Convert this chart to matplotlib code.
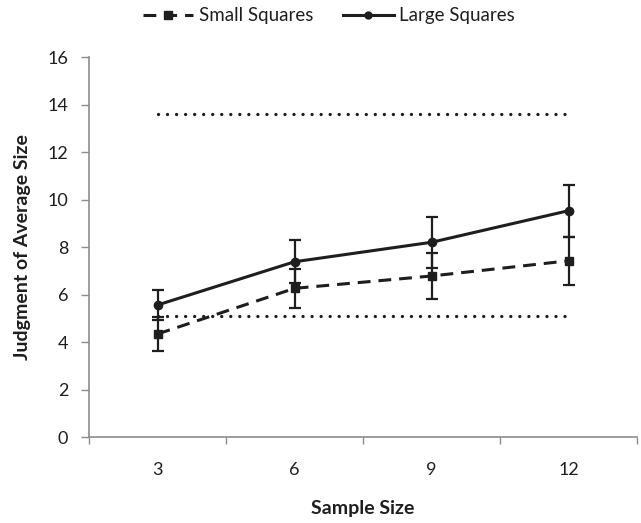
import matplotlib.pyplot as plt
from matplotlib.lines import Line2D
import numpy as np

plt.rcParams['font.family'] = ['Lato', 'DejaVu Sans']

categories = ['3', '6', '9', '12']
small_mean = [4.34, 6.26, 6.78, 7.42]
small_err = [0.72, 0.83, 0.98, 1.02]
large_mean = [5.56, 7.38, 8.20, 9.53]
large_err = [0.63, 0.91, 1.08, 1.10]
upper_ref = 13.6
lower_ref = 5.1

x = np.arange(len(categories))
ink = '#1e1e1e'
axis_gray = '#8c8c8c'
dash_small = (0, (4.2, 2.6))

fig = plt.figure(figsize=(6.41, 5.23), dpi=100)
ax = fig.add_axes([0.139, 0.1644, 0.855, 0.7266])

# reference lines (dotted)
ax.plot([x[0], x[-1]], [upper_ref, upper_ref], color=ink, lw=2.4,
        linestyle=(0, (0.01, 2.7)), dash_capstyle='round')
ax.plot([x[0], x[-1]], [lower_ref, lower_ref], color=ink, lw=2.4,
        linestyle=(0, (0.01, 2.7)), dash_capstyle='round')

ax.errorbar(x, small_mean, yerr=small_err, color=ink, lw=2.2,
            linestyle=dash_small, marker='s', markersize=6,
            capsize=4.5, capthick=1.6, elinewidth=1.6)
ax.errorbar(x, large_mean, yerr=large_err, color=ink, lw=2.2,
            linestyle='-', marker='o', markersize=6,
            capsize=4.5, capthick=1.6, elinewidth=1.6)

ax.set_xlim(-0.5, 3.5)
ax.set_ylim(0, 16)
ax.set_yticks(range(0, 17, 2))
ax.set_xticks(np.arange(-0.5, 4, 1))
ax.set_xticklabels([])
ax.set_xticks(x, minor=True)
ax.set_xticklabels(categories, minor=True)
ax.tick_params(axis='x', which='minor', length=0, pad=18, labelsize=13, colors=ink)
ax.tick_params(axis='x', which='major', length=5, color=axis_gray, width=1)
ax.tick_params(axis='y', length=6, color=axis_gray, width=1, labelsize=13,
               labelcolor=ink, pad=9)

for s in ['top', 'right']:
    ax.spines[s].set_visible(False)
for s in ['left', 'bottom']:
    ax.spines[s].set_color(axis_gray)
    ax.spines[s].set_linewidth(1.2)

ax.set_xlabel('Sample Size', fontsize=14, fontweight='bold', color=ink, labelpad=16)
ax.set_ylabel('Judgment of Average Size', fontsize=14, fontweight='bold', color=ink, labelpad=12)

handles = [
    Line2D([], [], color=ink, lw=2.2, linestyle=dash_small, marker='s', markersize=6),
    Line2D([], [], color=ink, lw=2.2, linestyle='-', marker='o', markersize=5),
]
leg = fig.legend(handles, ['Small Squares', 'Large Squares'], loc='upper center',
                 bbox_to_anchor=(0.513, 1.018), ncol=2, frameon=False, fontsize=13.5,
                 handlelength=2.7, columnspacing=1.6, handletextpad=0.3)
for t in leg.get_texts():
    t.set_color(ink)

fig.savefig('out.png', dpi=100)
